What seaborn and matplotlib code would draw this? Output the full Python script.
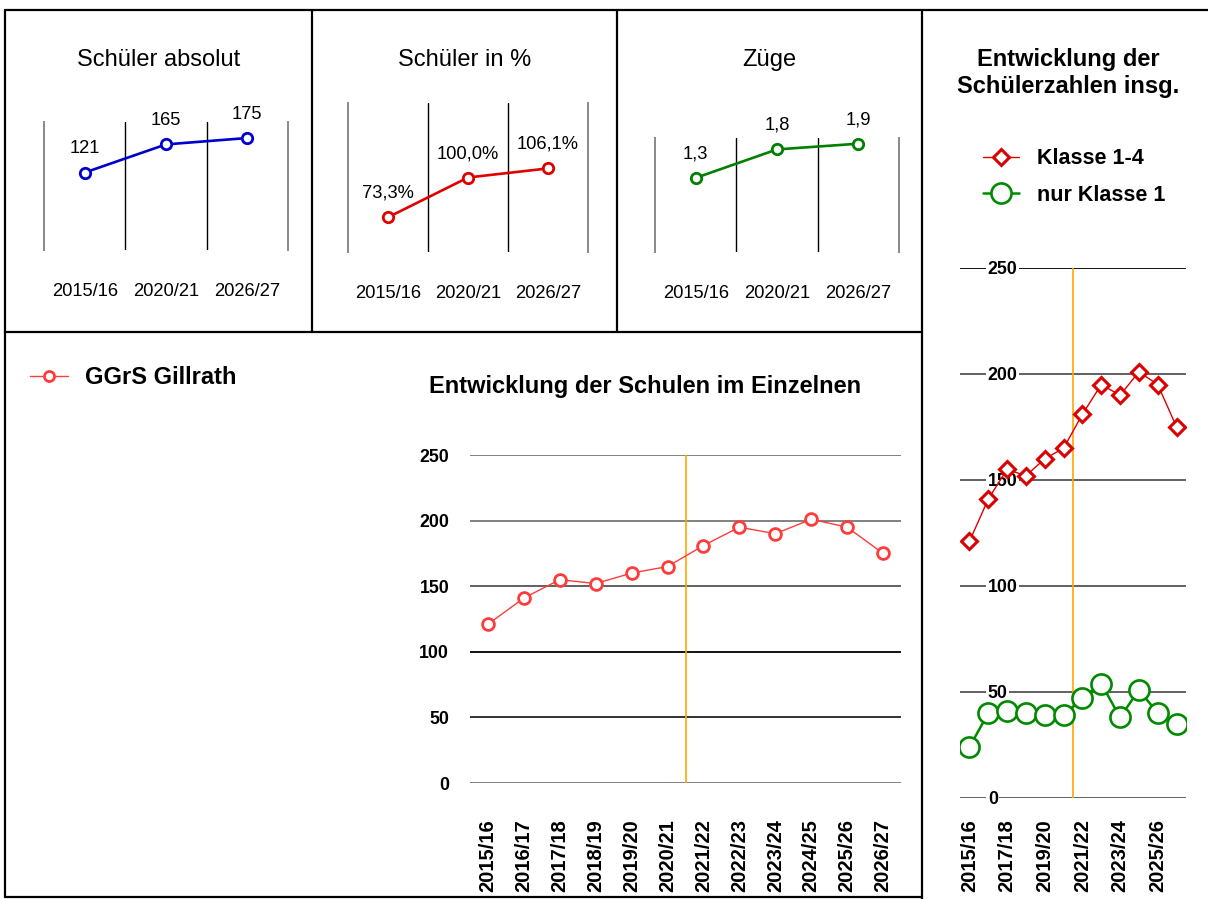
import numpy as np
import pandas as pd
import matplotlib
matplotlib.use("Agg")
import matplotlib.pyplot as plt
import seaborn as sns
from matplotlib import font_manager as fm
from matplotlib.lines import Line2D

# ---------------- data ----------------
summary_years = ["2015/16", "2020/21", "2026/27"]
students_abs = [121, 165, 175]
students_pct = [73.3, 100.0, 106.1]
zuege = [1.3, 1.8, 1.9]

years = ["2015/16", "2016/17", "2017/18", "2018/19", "2019/20", "2020/21",
         "2021/22", "2022/23", "2023/24", "2024/25", "2025/26", "2026/27"]
ggrs_gillrath = [121, 141, 155, 152, 160, 165, 181, 195, 190, 201, 195, 175]
klasse_1_4 = [121, 141, 155, 152, 160, 165, 181, 195, 190, 201, 195, 175]
nur_klasse_1 = [24, 40, 41, 40, 39, 39, 47, 54, 38, 51, 40, 35]
forecast_start = "2021/22"
y_ticks = [0, 50, 100, 150, 200, 250]

# ---------------- style ----------------
sns.set_style("white")
names = {f.name for f in fm.fontManager.ttflist}
HAS_NARROW = "Liberation Sans Narrow" in names
NARROW = "Liberation Sans Narrow" if HAS_NARROW else "Liberation Sans"
NSCALE = 1.0 if HAS_NARROW else 0.88
plt.rcParams["font.family"] = ["Liberation Sans", "DejaVu Sans"]
for k in ["text.color", "axes.labelcolor", "xtick.color", "ytick.color"]:
    plt.rcParams[k] = "black"

def nf(size):
    return size * NSCALE

W, H = 1208, 899
fig = plt.figure(figsize=(W / 100, H / 100), dpi=100)

def ax_at(x0, y0, x1, y1):
    return fig.add_axes([x0 / W, 1 - y1 / H, (x1 - x0) / W, (y1 - y0) / H])

def fig_line(x0, y0, x1, y1, lw=1.6):
    fig.add_artist(Line2D([x0 / W, x1 / W], [1 - y0 / H, 1 - y1 / H],
                          transform=fig.transFigure, color="black", lw=lw))

# ---------------- frame lines ----------------
fig_line(5, 10, 1208, 10)
fig_line(5, 10, 5, 897)
fig_line(5, 332, 922, 332)
fig_line(312, 10, 312, 332)
fig_line(617, 10, 617, 332)
fig_line(922, 10, 922, 899)
fig_line(5, 897, 922, 897)

# ---------------- small summary panels ----------------
def fmt_int(v):
    return f"{v:d}"

def fmt_pct(v):
    return f"{v:.1f}".replace(".", ",") + "%"

def fmt_dec(v):
    return f"{v:.1f}".replace(".", ",")

panels = [
    (ax_at(44, 122, 288, 250), students_abs, "Schüler absolut", "#0000CC", (0, 200), fmt_int, 158.5),
    (ax_at(348, 103, 588, 252), students_pct, "Schüler in %", "#E00000", (50, 150), fmt_pct, 464.5),
    (ax_at(655, 138, 899, 252), zuege, "Züge", "#008000", (0, 2.0), fmt_dec, 769.5),
]

for ax, vals, title, color, ylim, fmt, cx in panels:
    sns.pointplot(x=summary_years, y=vals, ax=ax, color=color, errorbar=None,
                  linewidth=1.9, markersize=7.5, markeredgewidth=2.0,
                  markerfacecolor="white", zorder=3)
    ax.set_ylim(*ylim)
    ax.set_xlim(-0.5, len(summary_years) - 0.5)
    ax.set_yticks([])
    ax.set_ylabel("")
    ax.set_xticks(range(len(summary_years)))
    ax.set_xticklabels(summary_years, fontfamily=NARROW, fontsize=nf(15))
    ax.tick_params(axis="x", length=0, pad=24)
    ax.set_xticks([0.5, 1.5], minor=True)
    ax.tick_params(axis="x", which="minor", length=0)
    ax.grid(False)
    ax.xaxis.grid(True, which="minor", color="black", lw=1.0)
    for s in ["top", "bottom"]:
        ax.spines[s].set_visible(False)
    for s in ["left", "right"]:
        ax.spines[s].set_visible(True)
        ax.spines[s].set_color("#888888")
        ax.spines[s].set_linewidth(1.4)
    ax.patch.set_alpha(0)
    for i, v in enumerate(vals):
        ax.annotate(fmt(v), (i, v), xytext=(0, 14), textcoords="offset points",
                    ha="center", va="baseline", fontfamily=NARROW, fontsize=nf(15))
    fig.text(cx / W, 1 - 66 / H, title, ha="center", va="baseline", fontsize=17)

# ---------------- bottom chart: single school ----------------
axb = ax_at(470, 455, 901, 783)
nb = len(axb.lines)
sns.pointplot(x=years, y=ggrs_gillrath, ax=axb, color="#FF3B3B", errorbar=None,
              linewidth=1.0, markersize=8.5, markeredgewidth=2.0,
              markerfacecolor="white", zorder=3)
line_b = axb.lines[nb]
axb.set_ylim(0, 250)
axb.set_xlim(-0.5, len(years) - 0.5)
axb.set_yticks(y_ticks)
axb.set_yticklabels([str(v) for v in y_ticks], fontfamily=NARROW, fontweight="bold", fontsize=nf(14.5))
axb.set_xticks(range(len(years)))
axb.set_xticklabels(years, rotation=90, fontfamily=NARROW, fontweight="bold", fontsize=nf(16.5))
axb.tick_params(axis="y", length=0, pad=15)
axb.tick_params(axis="x", length=0, pad=26)
axb.set_ylabel("")
for s in axb.spines.values():
    s.set_visible(False)
axb.grid(False)
axb.yaxis.grid(True, color="#777777", lw=1.3)
grid_cols_b = ["#777777", "#222222", "#000000", "#555555", "#777777", "#777777"]
for gl, c in zip(axb.get_ygridlines(), grid_cols_b):
    gl.set_color(c)
axb.axvline(years.index(forecast_start) - 0.5, color="#FFA500", lw=1.2, zorder=2)
fig.text(645 / W, 1 - 393 / H, "Entwicklung der Schulen im Einzelnen",
         ha="center", va="baseline", fontsize=17, fontweight="bold")
axb.legend([line_b], ["GGrS Gillrath"], loc="center left",
           bbox_to_anchor=(30 / W, 1 - 378 / H), bbox_transform=fig.transFigure,
           frameon=False, borderpad=0, borderaxespad=0, handlelength=1.6,
           handletextpad=0.75, markerscale=0.85,
           prop={"family": "Liberation Sans", "weight": "bold", "size": 17})

# ---------------- right chart: totals ----------------
axr = ax_at(960, 268, 1186, 798)
n0 = len(axr.lines)
sns.pointplot(x=years, y=klasse_1_4, ax=axr, color="#DD0000", errorbar=None,
              markers="D", linewidth=1.0, markersize=8.5, markeredgewidth=2.2,
              markerfacecolor="white", zorder=3)
line_k14 = axr.lines[n0]
n1 = len(axr.lines)
sns.pointplot(x=years, y=nur_klasse_1, ax=axr, color="#008A00", errorbar=None,
              markers="o", linewidth=1.8, markersize=14.5, markeredgewidth=1.9,
              markerfacecolor="white", zorder=3)
line_k1 = axr.lines[n1]
axr.set_ylim(0, 250)
axr.set_xlim(-0.5, len(years) - 0.5)
axr.set_ylabel("")
axr.set_yticks(y_ticks)
axr.set_yticklabels([str(v) for v in y_ticks], fontfamily=NARROW, fontweight="bold", fontsize=nf(14.5))
axr.tick_params(axis="y", length=0, pad=-20)
for lab in axr.get_yticklabels():
    lab.set_horizontalalignment("left")
    lab.set_bbox(dict(facecolor="white", edgecolor="none", pad=1))
axr.set_xticks(range(0, len(years), 2))
axr.set_xticklabels(years[::2], rotation=90, fontfamily=NARROW, fontweight="bold", fontsize=nf(16.5))
axr.tick_params(axis="x", length=0, pad=15)
for s in axr.spines.values():
    s.set_visible(False)
axr.grid(False)
axr.yaxis.grid(True, color="#555555", lw=1.3)
for gl, c in zip(axr.get_ygridlines(), ["#555555", "#555555", "#555555", "#555555", "#555555", "#000000"]):
    gl.set_color(c)
axr.axvline(years.index(forecast_start) - 0.5, color="#FFA500", lw=1.2, zorder=2)
fig.text(1068 / W, 1 - 66 / H, "Entwicklung der", ha="center", va="baseline",
         fontsize=17, fontweight="bold")
fig.text(1068 / W, 1 - 93 / H, "Schülerzahlen insg.", ha="center", va="baseline",
         fontsize=17, fontweight="bold")
axr.legend([line_k14, line_k1], ["Klasse 1-4", "nur Klasse 1"], loc="center left",
           bbox_to_anchor=(983 / W, 1 - 177 / H), bbox_transform=fig.transFigure,
           frameon=False, borderpad=0, borderaxespad=0, handlelength=1.65,
           handletextpad=0.85, labelspacing=0.7,
           prop={"family": "Liberation Sans", "weight": "bold", "size": 15.5})

fig.savefig("out.png", dpi=100, facecolor="white")
